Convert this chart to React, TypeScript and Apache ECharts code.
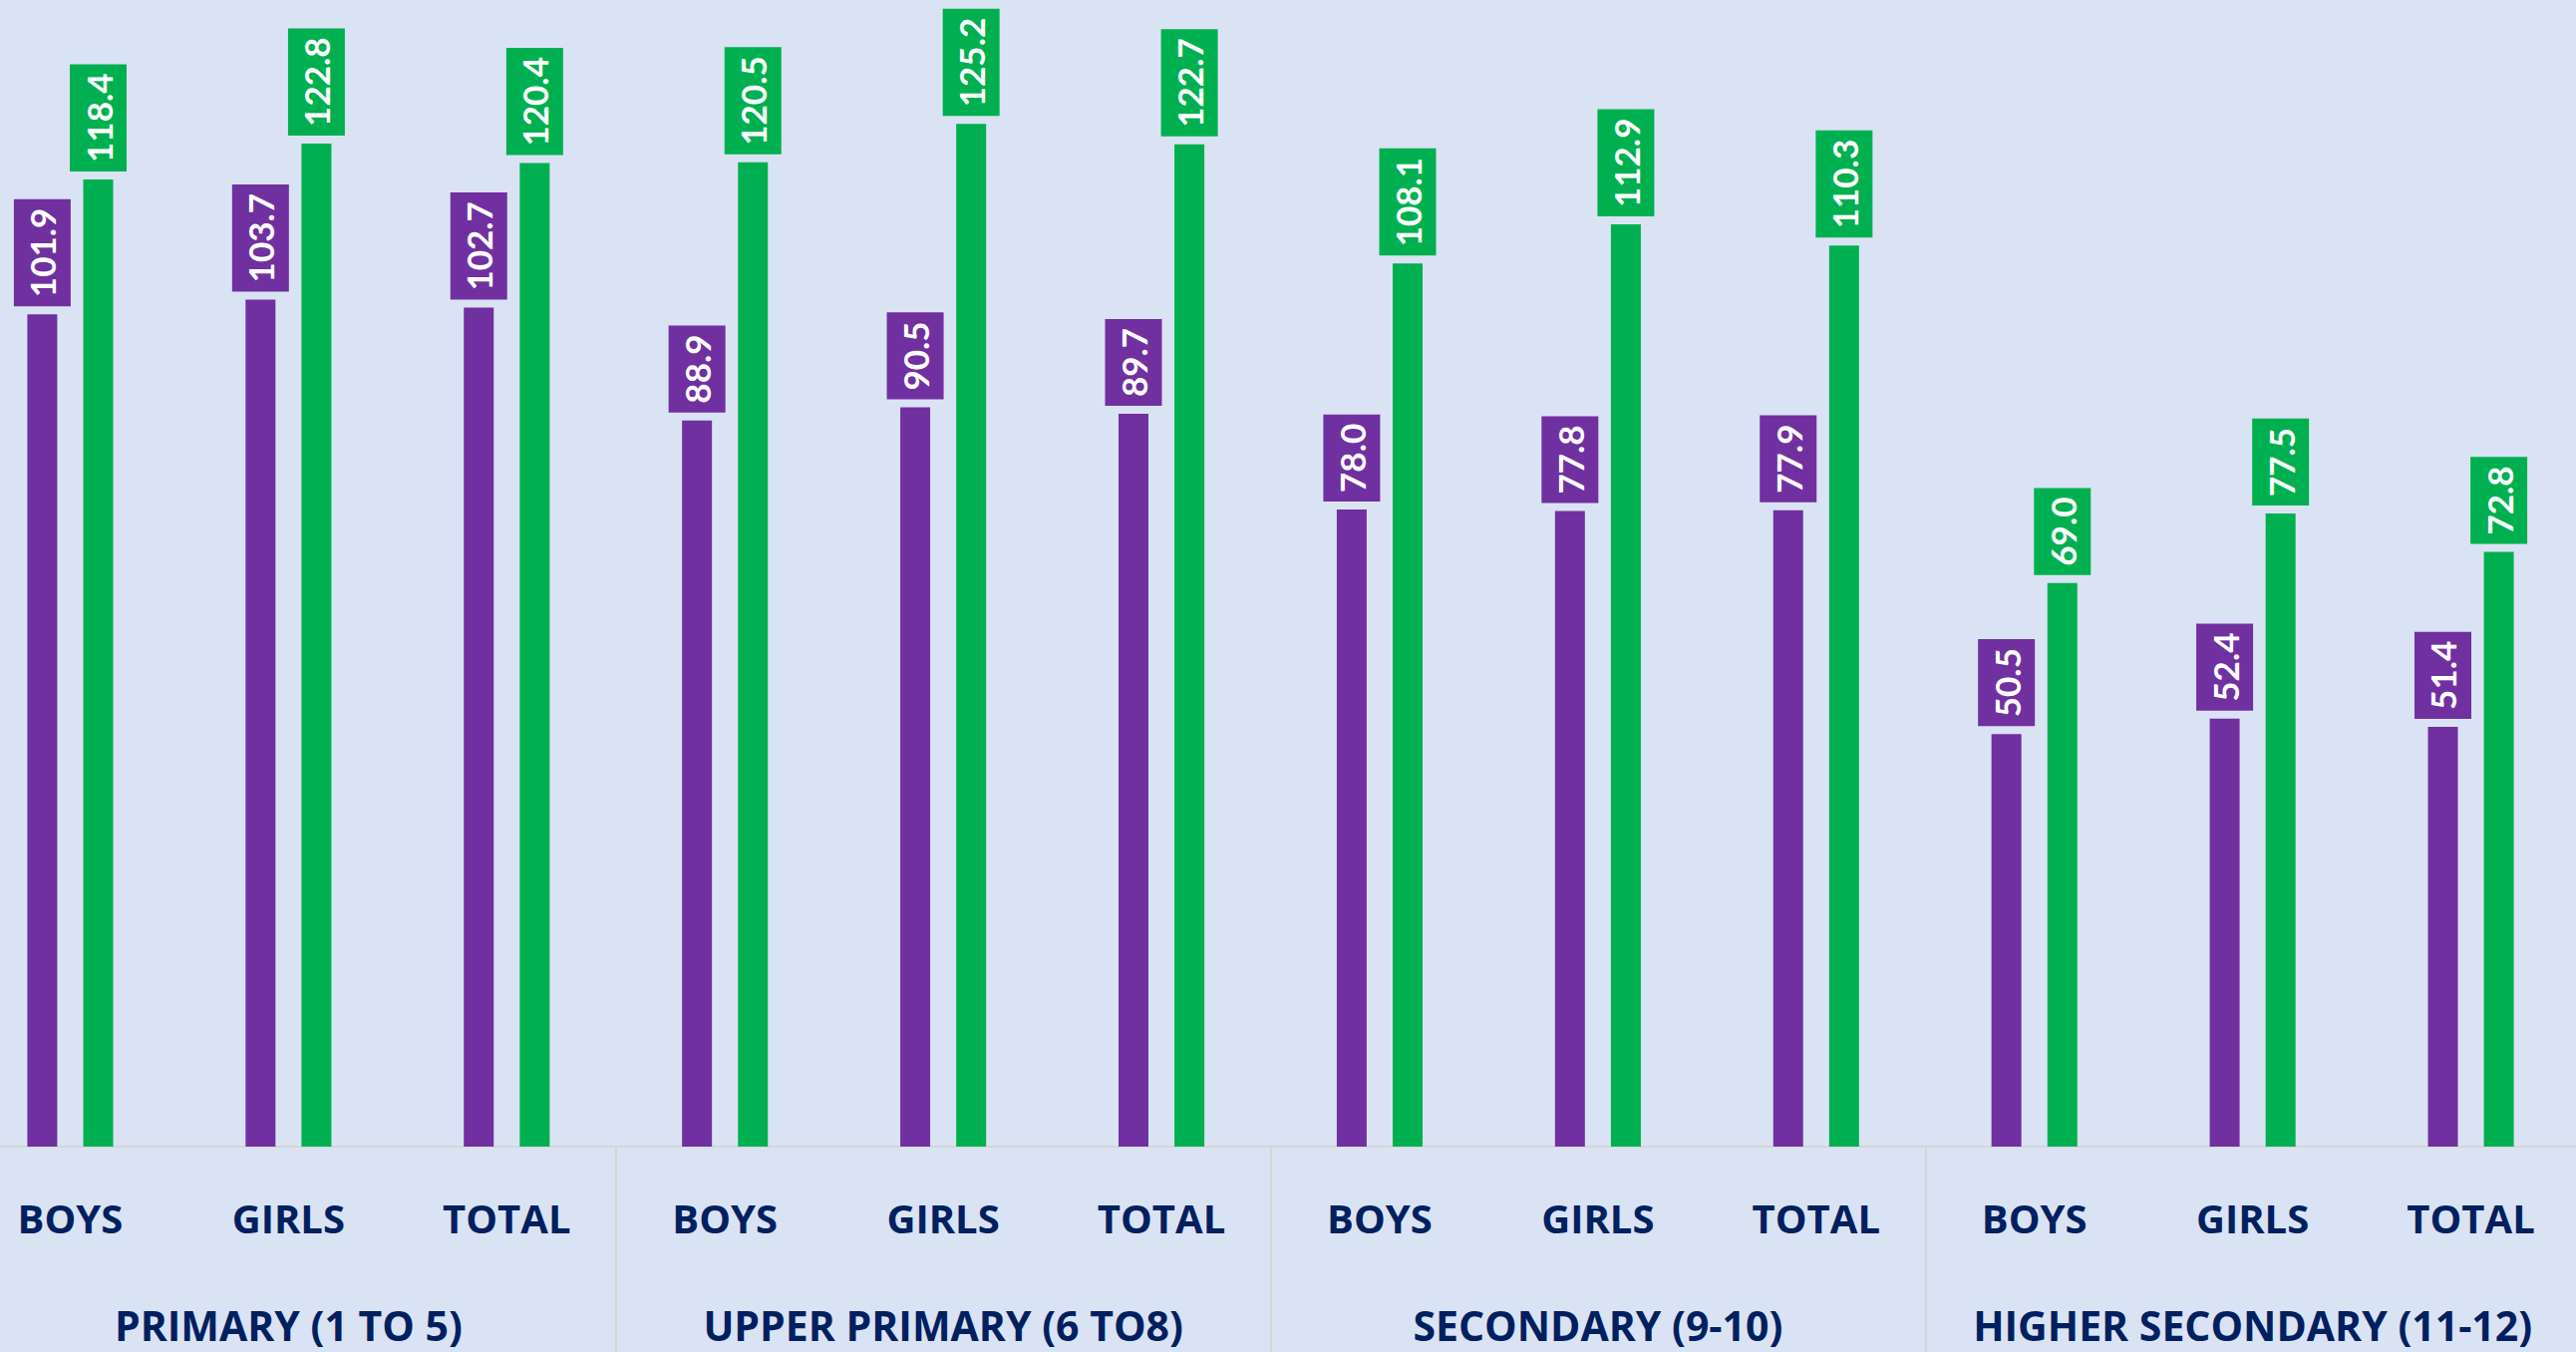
import React, { useEffect, useRef } from "react";
import * as echarts from "echarts";

const groups = ["PRIMARY (1 TO 5)", "UPPER PRIMARY (6 TO8)", "SECONDARY (9-10)", "HIGHER SECONDARY (11-12)"];
const subLabels = ["BOYS", "GIRLS", "TOTAL"];
const categories = groups.flatMap(() => subLabels);
const purpleValues = [101.9, 103.7, 102.7, 88.9, 90.5, 89.7, 78.0, 77.8, 77.9, 50.5, 52.4, 51.4];
const greenValues = [118.4, 122.8, 120.4, 120.5, 125.2, 122.7, 108.1, 112.9, 110.3, 69.0, 77.5, 72.8];

const PURPLE = "#7030A0";
const GREEN = "#00B050";
const NAVY = "#002060";
const LABEL_FONT = "Lato, 'Open Sans', sans-serif";
const AXIS_FONT = "'Open Sans', Lato, sans-serif";

function makeSeries(name: string, data: number[], color: string) {
  return {
    name,
    type: "bar",
    xAxisIndex: 0,
    data,
    barWidth: 30,
    barGap: "87%",
    itemStyle: { color },
    label: {
      show: true,
      position: "top",
      rotate: 90,
      align: "left",
      verticalAlign: "middle",
      distance: 8,
      formatter: (p: any) => Number(p.value).toFixed(1),
      color: "#FFFFFF",
      fontFamily: LABEL_FONT,
      fontWeight: "bold",
      fontSize: 35,
      lineHeight: 40,
      backgroundColor: color,
      padding: [9, 9, 8, 9],
    },
  };
}

export default function App() {
  const ref = useRef<HTMLDivElement>(null);
  useEffect(() => {
    document.body.style.margin = "0";
    document.body.style.overflow = "hidden";
    document.body.style.background = "#DAE3F3";
    if (!ref.current) return;
    const chart = echarts.init(ref.current, undefined, { renderer: "svg" });
    chart.setOption({
      animation: false,
      backgroundColor: "#DAE3F3",
      grid: { left: 0, right: 0, top: 3, bottom: 206, containLabel: false },
      xAxis: [
        {
          type: "category",
          data: categories,
          position: "bottom",
          axisLine: { show: true, lineStyle: { color: "#D6D6D6", width: 2 } },
          axisTick: { show: false },
          axisLabel: {
            interval: 0,
            margin: 51,
            color: NAVY,
            fontFamily: AXIS_FONT,
            fontWeight: "bold",
            fontSize: 40,
            lineHeight: 40,
          },
        },
        {
          type: "category",
          data: groups,
          position: "bottom",
          axisLine: { show: true, lineStyle: { color: "#D6D6D6", width: 2 } },
          axisTick: { show: true, length: 210, lineStyle: { color: "#D6D6D6", width: 2 } },
          axisLabel: {
            interval: 0,
            margin: 158,
            color: NAVY,
            fontFamily: AXIS_FONT,
            fontWeight: "bold",
            fontSize: 41,
            lineHeight: 41,
          },
        },
      ],
      yAxis: {
        type: "value",
        min: 0,
        max: 140,
        show: false,
        splitLine: { show: false },
      },
      series: [makeSeries("Series 1", purpleValues, PURPLE), makeSeries("Series 2", greenValues, GREEN)],
    });
    return () => chart.dispose();
  }, []);
  return (
    <div
      ref={ref}
      style={{ position: "absolute", left: -39, top: 0, width: 2627, height: 1356 }}
    />
  );
}
